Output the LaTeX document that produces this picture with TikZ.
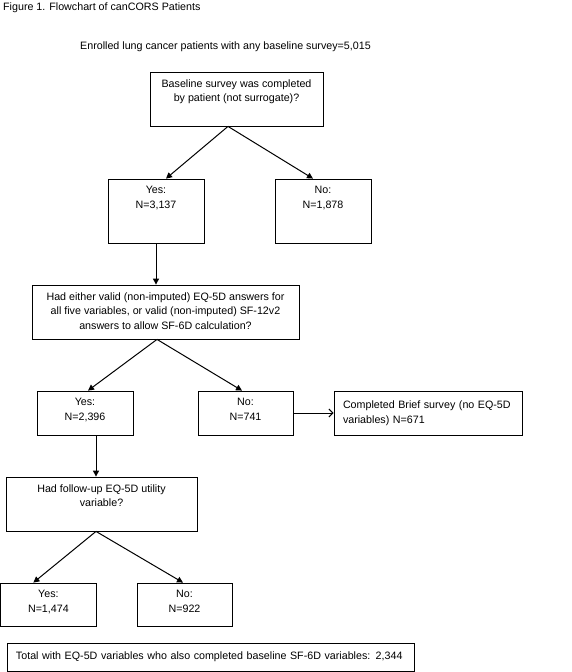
\documentclass[tikz,border=0pt]{standalone}
\usepackage{fontspec}
\setmainfont{Liberation Sans}
\usetikzlibrary{math,arrows.meta}
\newcommand*{\FlowFont}{\fontsize{10.7}{14.5}\selectfont}
\tikzset{%
  flow box/.style={draw=black, line width=0.8pt, inner sep=0pt},
  box text/.style={anchor=north, align=center, inner xsep=2pt, inner ysep=7.5pt, font=\FlowFont},
  flow arrow/.style={line width=1pt, -{Triangle[length=6pt,width=6pt]}},
  side arrow/.style={line width=1pt, -{Straight Barb[length=4pt,width=8pt]}}
}

\begin{document}
\begin{tikzpicture}[x=1pt,y=-1pt,font=\FlowFont]
    \tikzmath{
      \tallh=54; % question boxes
      \midh=64;
      \lowh=44;
      \smallw=96;
    }
    \useasboundingbox (0,0) rectangle (571,672);
    % Headings:
    \node[anchor=base west, inner sep=0pt] (title) at (3,10) {Figure 1. Flowchart of canCORS Patients};
    \node[anchor=base west, inner sep=0pt] (enrolled) at (80,49) {Enrolled lung cancer patients with any baseline survey=5,015};
    % First question:
    \node[flow box, minimum width=173, minimum height=\tallh,
      label={[box text]north:{Baseline survey was completed\\by patient (not surrogate)?}}] (q1) at (236.5,99) {};
    \node[flow box, minimum width=\smallw, minimum height=\midh,
      label={[box text]north:{Yes:\\N=3,137}}] (yes1) at (156,211) {};
    \node[flow box, minimum width=\smallw, minimum height=\midh,
      label={[box text]north:{No:\\N=1,878}}] (no1) at (323,211) {};
    % Second question:
    \node[flow box, minimum width=267, minimum height=\tallh,
      label={[box text]north:{Had either valid (non-imputed) EQ-5D answers for\\all five variables, or valid (non-imputed) SF-12v2\\answers to allow SF-6D calculation?}}] (q2) at (165.5,312) {};
    \node[flow box, minimum width=\smallw, minimum height=\lowh,
      label={[box text]north:{Yes:\\N=2,396}}] (yes2) at (85,413) {};
    \node[flow box, minimum width=95, minimum height=\lowh,
      label={[box text]north:{No:\\N=741}}] (no2) at (245.5,413) {};
    \node[flow box, minimum width=188, minimum height=\lowh, align=left, text width=170] (brief) at (428,413)
      {Completed Brief survey (no EQ-5D\\variables) N=671};
    % Follow-up:
    \node[flow box, minimum width=191, minimum height=\tallh,
      label={[box text]north:{Had follow-up EQ-5D utility\\variable?}}] (q3) at (101.5,504) {};
    \node[flow box, minimum width=\smallw, minimum height=43,
      label={[box text]north:{Yes:\\N=1,474}}] (yes3) at (48.4,604.5) {};
    \node[flow box, minimum width=95, minimum height=43,
      label={[box text]north:{No:\\N=922}}] (no3) at (184.5,604.5) {};
    \node[flow box, minimum width=407, minimum height=28, align=left, text width=389] (total) at (210.5,657)
      {Total with EQ-5D variables who also completed baseline SF-6D variables: 2,344};
    % Connectors:
    \draw[flow arrow] ([xshift=-8.5pt]q1.south) -- ([xshift=10pt]yes1.north);
    \draw[flow arrow] ([xshift=-8.5pt]q1.south) -- ([xshift=-10pt]no1.north);
    \draw[flow arrow] (yes1.south) -- (yes1.south |- q2.north);
    \draw[flow arrow] ([xshift=-8.5pt]q2.south) -- ([xshift=3pt]yes2.north);
    \draw[flow arrow] ([xshift=-8.5pt]q2.south) -- ([xshift=-3.5pt]no2.north);
    \draw[side arrow] (no2.east) -- (brief.west);
    \draw[flow arrow] ([xshift=11pt]yes2.south) -- ([xshift=11pt]yes2.south |- q3.north);
    \draw[flow arrow] ([xshift=-5.5pt]q3.south) -- ([xshift=-15pt]yes3.north);
    \draw[flow arrow] ([xshift=-5.5pt]q3.south) -- ([xshift=-1.5pt]no3.north);
  \end{tikzpicture}
\end{document}
